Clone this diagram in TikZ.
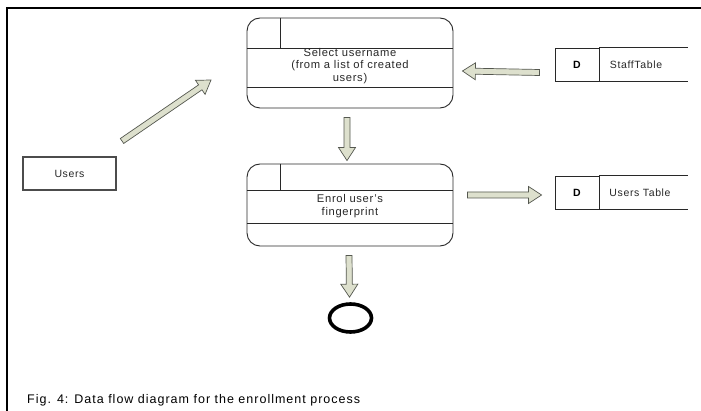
\documentclass[tikz,border=0pt]{standalone}
\usepackage{fontspec}
\setmainfont[LetterSpace=6]{Liberation Sans}
\newfontfamily\capfont[LetterSpace=8]{Liberation Sans}
\usetikzlibrary{calc,shapes.geometric}

\definecolor{inkgray}{RGB}{40,40,40}
\definecolor{flowfill}{RGB}{221,224,205}
\definecolor{flowedge}{RGB}{85,88,80}

\tikzset{
  procbox/.style={draw=inkgray, line width=0.9pt, rounded corners=13pt,
    minimum width=206pt, inner sep=0pt},
  procline/.style={draw=inkgray, line width=0.9pt},
  proctext/.style={align=center, text=inkgray, font=\fontsize{11.2}{12.8}\selectfont},
  storeid/.style={draw=inkgray, line width=0.9pt, minimum width=44pt,
    minimum height=33pt, inner sep=0pt, font=\fontsize{10.5}{12}\selectfont\bfseries},
  storetext/.style={text=inkgray, font=\fontsize{10.5}{12}\selectfont},
  entitybox/.style={draw=black!70, line width=1.2pt, minimum width=93pt,
    minimum height=33pt, inner sep=0pt, text=inkgray, font=\fontsize{10.5}{12}\selectfont},
  endmark/.style={draw=black, line width=3.6pt, ellipse, minimum width=42pt,
    minimum height=28pt, inner sep=0pt},
  flowstyle/.style={fill=flowfill, draw=flowedge, line width=0.7pt, line join=miter}
}

% hollow block arrow from #1 to #2
\newcommand\flowarrow[2]{%
  \path ($(#2)!13pt!(#1)$) coordinate (fh);
  \draw[flowstyle]
    ($(#1)!3pt!90:(#2)$) -- ($(fh)!3pt!-90:(#1)$) -- ($(fh)!8.5pt!-90:(#1)$)
    -- (#2) -- ($(fh)!8.5pt!90:(#1)$) -- ($(fh)!3pt!90:(#1)$)
    -- ($(#1)!3pt!-90:(#2)$) -- cycle;}

\begin{document}
\begin{tikzpicture}[x=1pt,y=-1pt]
  \useasboundingbox (0,0) rectangle (701,411);
  \fill[white] (0,0) rectangle (701,411);

  % frame
  \draw[line width=2pt, line cap=rect] (7,411) -- (7,8) -- (701,8);

  % process 1
  \node[procbox, minimum height=90pt] (p1) at (350,63) {};
  \draw[procline] (p1.west |- 0,48) -- (p1.east |- 0,48);
  \draw[procline] (p1.west |- 0,87) -- (p1.east |- 0,87);
  \draw[procline] (p1.north -| 280,0) -- (280,48);
  \node[proctext] (t1) at (350,66) {Select username\\(from a list of created\\users)};

  % process 2
  \node[procbox, minimum height=82pt] (p2) at (350,205) {};
  \draw[procline] (p2.west |- 0,190) -- (p2.east |- 0,190);
  \draw[procline] (p2.west |- 0,223) -- (p2.east |- 0,223);
  \draw[procline] (p2.north -| 280,0) -- (280,190);
  \node[proctext] (t2) at (350,206.5) {Enrol user's\\fingerprint};

  % data stores
  \node[storeid] (d1) at (577,64.5) {D};
  \draw[procline] (d1.north east) -- ++(89,0);
  \draw[procline] (d1.south east) -- ++(89,0);
  \node[storetext] (s1) at (636,64.5) {StaffTable};

  \node[storeid] (d2) at (577,192.5) {D};
  \draw[procline] (d2.north east) -- ++(89,0);
  \draw[procline] (d2.south east) -- ++(89,0);
  \node[storetext] (s2) at (640,192.5) {Users Table};

  % external entity
  \node[entitybox] (u) at (69.5,173.5) {Users};

  % end of process
  \node[endmark] (e) at (350.5,318) {};

  % flows
  \coordinate (a1s) at (122,141);
  \coordinate (a1e) at (211,80);
  \coordinate (a2s) at ($(d1.west)+(-15,8)$);
  \coordinate (a2e) at ($(p1.east)+(9,8)$);
  \coordinate (a3s) at ($(p1.south)+(-3,9)$);
  \coordinate (a3e) at ($(p2.north)+(-3,-3)$);
  \coordinate (a4s) at ($(p2.east)+(14,-10)$);
  \coordinate (a4e) at ($(d2.west)+(-13,2.5)$);
  \coordinate (a5s) at ($(p2.south)+(-1,9)$);
  \coordinate (a5e) at ($(e.north)+(-1,-5)$);
  \flowarrow{a1s}{a1e}
  \flowarrow{a2s}{a2e}
  \flowarrow{a3s}{a3e}
  \flowarrow{a4s}{a4e}
  \flowarrow{a5s}{a5e}

  % caption
  \node[anchor=west, inner sep=0pt, text=black, font=\capfont\fontsize{12.5}{14}\selectfont] (cap) at (27,400)
    {Fig. 4: Data flow diagram for the enrollment process};
\end{tikzpicture}
\end{document}
